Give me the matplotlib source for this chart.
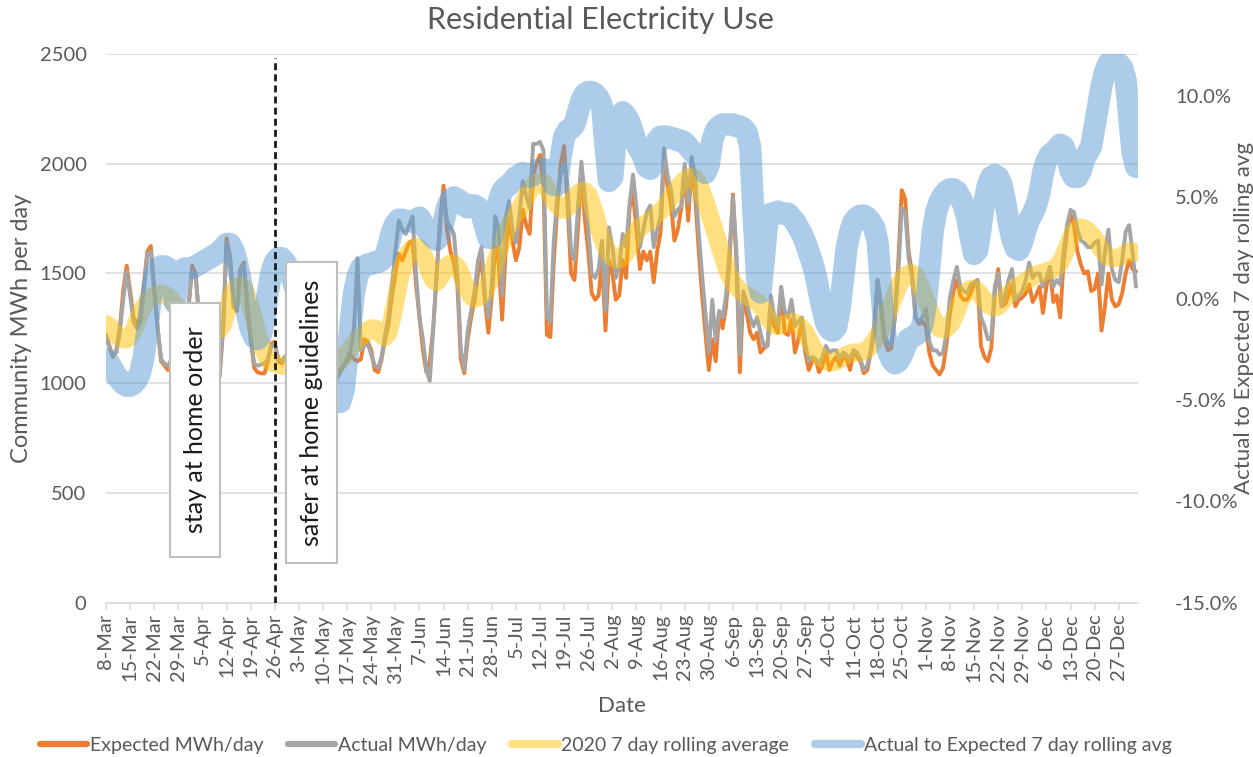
import numpy as np
import pandas as pd
import matplotlib
matplotlib.use("Agg")
import matplotlib.pyplot as plt
import matplotlib.dates as mdates
from matplotlib.lines import Line2D
from matplotlib.patches import Rectangle
from matplotlib.ticker import FuncFormatter

plt.rcParams['font.family'] = ['Lato', 'DejaVu Sans']

start_date = "2020-03-08"

expected_mwh = [
    1220, 1170, 1120, 1150, 1250, 1420, 1535, 1420, 1300, 1270,
    1300, 1450, 1600, 1625, 1430, 1250, 1100, 1080, 1060, 1100,
    1200, 1150, 1100, 1150, 1350, 1535, 1500, 1300, 1150, 1100,
    1080, 1060, 1050, 1030, 1250, 1660, 1580, 1350, 1330, 1520,
    1550, 1350, 1200, 1070, 1050, 1045, 1045, 1100, 1180, 1190,
    1100, 1090, 1120, 1140, 1180, 1150, 1100, 1080, 1070, 1090,
    1120, 1150, 1130, 1100, 1080, 1060, 1050, 1050, 1060, 1080,
    1100, 1130, 1110, 1100, 1110, 1200, 1190, 1150, 1060, 1050,
    1110, 1200, 1270, 1400, 1500, 1590, 1560, 1600, 1640, 1650,
    1450, 1300, 1150, 1050, 1100, 1250, 1500, 1750, 1900, 1700,
    1600, 1550, 1450, 1110, 1045, 1200, 1300, 1380, 1500, 1560,
    1380, 1230, 1400, 1620, 1550, 1290, 1600, 1750, 1650, 1560,
    1620, 1790, 1720, 1680, 1950, 2000, 2040, 1900, 1220, 1210,
    1560, 1800, 2000, 2080, 1820, 1500, 1470, 1700, 1980, 1750,
    1600, 1410, 1380, 1400, 1560, 1240, 1560, 1500, 1380, 1400,
    1560, 1480, 1800, 1860, 1700, 1520, 1600, 1560, 1600, 1460,
    1600, 1690, 2040, 1900, 1820, 1650, 1700, 1800, 1970, 1740,
    1990, 1860, 1620, 1410, 1230, 1060, 1200, 1100, 1320, 1250,
    1350, 1560, 1860, 1560, 1050, 1400, 1320, 1230, 1200, 1230,
    1140, 1160, 1170, 1330, 1260, 1230, 1430, 1230, 1220, 1290,
    1140, 1200, 1280, 1140, 1060, 1100, 1110, 1050, 1080, 1140,
    1060, 1100, 1120, 1080, 1120, 1110, 1060, 1150, 1120, 1100,
    1045, 1060, 1140, 1230, 1470, 1340, 1200, 1150, 1160, 1300,
    1550, 1880, 1840, 1600, 1500, 1300, 1270, 1280, 1260, 1140,
    1080, 1060, 1040, 1070, 1180, 1320, 1420, 1470, 1400, 1380,
    1380, 1410, 1450, 1470, 1170, 1120, 1100, 1160, 1410, 1520,
    1350, 1360, 1400, 1450, 1350, 1380, 1390, 1410, 1450, 1370,
    1400, 1440, 1320, 1440, 1530, 1370, 1400, 1300, 1560, 1700,
    1770, 1720, 1600, 1540, 1500, 1510, 1420, 1430, 1500, 1240,
    1350, 1500, 1380, 1350, 1360, 1410, 1500, 1560, 1520, 1510,
]

actual_mwh = [
    1210, 1160, 1130, 1140, 1230, 1380, 1510, 1400, 1280, 1250,
    1280, 1420, 1590, 1600, 1420, 1250, 1110, 1090, 1080, 1110,
    1190, 1170, 1120, 1170, 1360, 1515, 1490, 1310, 1170, 1120,
    1100, 1080, 1070, 1050, 1260, 1640, 1570, 1360, 1340, 1510,
    1540, 1360, 1210, 1090, 1080, 1085, 1090, 1110, 1170, 1180,
    1110, 1100, 1120, 1140, 1170, 1140, 1090, 1070, 1060, 1080,
    1100, 1120, 1100, 1070, 1050, 1030, 1020, 1020, 1050, 1080,
    1110, 1150, 1250, 1570, 1150, 1170, 1180, 1130, 1080, 1070,
    1120, 1220, 1300, 1450, 1600, 1740, 1700, 1680, 1720, 1760,
    1500, 1300, 1200, 1060, 1010, 1250, 1500, 1720, 1870, 1740,
    1710, 1680, 1500, 1150, 1060, 1240, 1330, 1420, 1560, 1620,
    1400, 1300, 1450, 1760, 1700, 1400, 1750, 1830, 1700, 1640,
    1760, 1920, 1850, 1800, 2090, 2090, 2100, 2060, 1300, 1280,
    1650, 1850, 1950, 2000, 1900, 1600, 1560, 1800, 2010, 1850,
    1700, 1500, 1480, 1520, 1650, 1330, 1710, 1620, 1480, 1530,
    1680, 1620, 1820, 1950, 1800, 1620, 1700, 1780, 1810, 1620,
    1700, 1760, 2070, 1950, 1880, 1760, 1790, 1810, 2000, 1820,
    2030, 1950, 1700, 1500, 1320, 1140, 1380, 1190, 1330, 1300,
    1400, 1600, 1850, 1600, 1130, 1420, 1370, 1300, 1260, 1300,
    1230, 1170, 1170, 1400, 1300, 1260, 1440, 1330, 1300, 1380,
    1260, 1280, 1300, 1180, 1100, 1120, 1110, 1090, 1120, 1170,
    1140, 1150, 1150, 1110, 1140, 1130, 1110, 1150, 1140, 1110,
    1060, 1080, 1150, 1270, 1470, 1360, 1220, 1180, 1180, 1300,
    1500, 1800, 1780, 1570, 1480, 1300, 1280, 1300, 1340, 1190,
    1150, 1150, 1130, 1140, 1230, 1390, 1470, 1530, 1440, 1420,
    1410, 1450, 1460, 1470, 1300, 1260, 1200, 1210, 1440, 1500,
    1350, 1400, 1470, 1520, 1380, 1400, 1420, 1470, 1550, 1480,
    1500, 1500, 1440, 1480, 1530, 1440, 1470, 1450, 1600, 1720,
    1790, 1780, 1700, 1650, 1640, 1620, 1620, 1640, 1650, 1450,
    1600, 1700, 1520, 1470, 1460, 1560, 1690, 1720, 1600, 1440,
]

rolling_avg_2020 = [
    1270, 1260, 1240, 1220, 1210, 1200, 1200, 1210, 1240, 1280,
    1320, 1350, 1375, 1390, 1400, 1405, 1410, 1405, 1395, 1380,
    1360, 1340, 1320, 1300, 1280, 1270, 1260, 1255, 1250, 1245,
    1240, 1240, 1240, 1245, 1270, 1320, 1380, 1420, 1440, 1445,
    1435, 1400, 1350, 1290, 1230, 1180, 1140, 1110, 1095, 1090,
    1085, 1080, 1080, 1075, 1070, 1070, 1075, 1080, 1085, 1090,
    1090, 1085, 1080, 1075, 1070, 1070, 1075, 1085, 1100, 1120,
    1140, 1160, 1180, 1200, 1210, 1225, 1240, 1250, 1250, 1240,
    1220, 1210, 1230, 1290, 1370, 1450, 1520, 1570, 1600, 1615,
    1620, 1615, 1590, 1550, 1500, 1470, 1460, 1480, 1510, 1535,
    1545, 1545, 1530, 1500, 1460, 1420, 1395, 1385, 1390, 1400,
    1420, 1450, 1500, 1550, 1600, 1640, 1680, 1720, 1750, 1770,
    1790, 1820, 1850, 1880, 1900, 1915, 1920, 1915, 1890, 1860,
    1830, 1810, 1795, 1790, 1800, 1820, 1845, 1865, 1875, 1875,
    1860, 1820, 1770, 1710, 1660, 1620, 1590, 1575, 1565, 1565,
    1575, 1595, 1625, 1660, 1690, 1710, 1720, 1730, 1740, 1755,
    1770, 1785, 1800, 1820, 1845, 1870, 1890, 1910, 1925, 1935,
    1940, 1935, 1910, 1870, 1830, 1780, 1730, 1680, 1630, 1580,
    1530, 1490, 1460, 1440, 1425, 1410, 1400, 1390, 1380, 1370,
    1355, 1330, 1300, 1280, 1265, 1260, 1265, 1270, 1275, 1280,
    1275, 1265, 1250, 1230, 1200, 1170, 1145, 1125, 1110, 1100,
    1095, 1095, 1100, 1110, 1120, 1130, 1135, 1140, 1140, 1140,
    1145, 1155, 1170, 1190, 1215, 1240, 1280, 1320, 1360, 1400,
    1440, 1470, 1490, 1500, 1500, 1490, 1460, 1420, 1380, 1340,
    1300, 1270, 1250, 1245, 1250, 1265, 1290, 1330, 1370, 1400,
    1420, 1430, 1430, 1420, 1400, 1380, 1360, 1350, 1345, 1350,
    1365, 1385, 1405, 1420, 1435, 1445, 1455, 1465, 1475, 1485,
    1495, 1500, 1505, 1510, 1515, 1520, 1530, 1550, 1580, 1620,
    1660, 1690, 1705, 1710, 1705, 1695, 1680, 1660, 1635, 1610,
    1590, 1575, 1570, 1570, 1575, 1580, 1590, 1600, 1600, 1595,
]

ratio_pct = [
    -3.0, -3.2, -3.5, -3.8, -4.0, -4.2, -4.3, -4.3, -4.2, -4.0,
    -3.6, -2.8, -1.5, 0.0, 1.0, 1.5, 1.6, 1.6, 1.5, 1.0,
    -0.2, 1.0, 1.4, 1.5, 1.5, 1.5, 1.6, 1.7, 1.8, 1.9,
    2.0, 2.1, 2.2, 2.3, 2.5, 2.7, 2.7, 2.4, 1.8, 1.0,
    0.0, -0.8, -1.5, -1.9, -2.0, -1.8, -1.0, 0.3, 1.3, 1.8,
    2.0, 2.0, 1.8, 1.5, 1.0, 0.5, 0.0, -0.5, -1.0, -1.5,
    -2.0, -2.5, -3.0, -3.5, -4.0, -4.5, -4.9, -5.1, -5.1, -4.5,
    -3.0, -1.2, 0.3, 1.1, 1.5, 1.6, 1.7, 1.7, 1.8, 1.8,
    1.9, 2.1, 2.6, 3.3, 3.7, 3.9, 3.9, 3.8, 3.8, 3.8,
    3.9, 4.0, 3.7, 3.4, 3.2, 3.0, 2.9, 3.1, 3.8, 4.5,
    4.9, 5.0, 4.9, 4.8, 4.6, 4.5, 4.6, 4.6, 4.5, 4.2,
    3.6, 3.0, 3.0, 3.8, 4.8, 5.3, 5.5, 5.6, 5.8, 6.0,
    6.1, 6.2, 6.1, 6.0, 6.1, 6.3, 6.4, 6.4, 6.3, 6.0,
    5.6, 5.6, 7.0, 8.0, 8.3, 8.4, 8.6, 9.2, 9.8, 10.1,
    10.2, 10.2, 10.1, 9.9, 9.5, 7.5, 5.8, 6.0, 8.0, 9.0,
    9.2, 9.0, 8.7, 8.2, 7.6, 7.3, 7.0, 6.5, 6.4, 7.0,
    7.8, 8.0, 8.0, 8.0, 7.9, 7.9, 7.8, 7.8, 7.7, 7.5,
    7.3, 7.1, 6.9, 6.6, 6.2, 6.6, 7.8, 8.3, 8.5, 8.6,
    8.6, 8.6, 8.6, 8.5, 8.5, 8.4, 8.2, 7.5, 4.0, 1.0,
    0.3, 2.0, 3.8, 4.2, 4.2, 4.3, 4.2, 4.2, 4.2, 4.0,
    3.8, 3.5, 3.2, 2.8, 2.3, 1.8, 1.2, 0.3, -0.5, -1.2,
    -1.5, -1.6, -1.4, -0.5, 1.0, 2.5, 3.3, 3.8, 4.0, 4.1,
    4.1, 4.0, 3.8, 3.5, 2.8, 0.5, -1.5, -2.6, -3.0, -3.2,
    -3.1, -2.8, -2.4, -2.0, -1.9, -1.8, -1.7, -1.3, -0.3, 1.5,
    3.3, 4.3, 4.8, 5.1, 5.3, 5.4, 5.4, 5.3, 5.0, 4.6,
    4.0, 3.0, 2.2, 2.4, 3.6, 4.8, 5.6, 6.0, 6.1, 6.0,
    5.6, 4.8, 3.8, 3.0, 2.5, 2.4, 2.8, 3.4, 3.9, 4.2,
    4.6, 5.2, 6.2, 6.8, 7.1, 7.2, 7.4, 7.6, 7.5, 7.0,
    6.3, 6.0, 6.0, 6.3, 6.9, 7.2, 7.5, 8.5, 9.5, 10.5,
    11.2, 11.6, 11.7, 11.7, 11.6, 11.4, 10.8, 9.0, 7.2, 6.5,
]

series_labels = ["Expected MWh/day", "Actual MWh/day",
                 "2020 7 day rolling average", "Actual to Expected 7 day rolling avg"]
event_date = "2020-04-26"
notes = ["stay at home order", "safer at home guidelines"]

TEXT = '#595959'
GRID = '#D9D9D9'

dates = pd.date_range(start_date, periods=len(expected_mwh), freq="D")
d0 = dates[0]

W, H = 1253, 757
fig = plt.figure(figsize=(W / 100, H / 100), dpi=100)
L, R, T, B = 106, 1137.7, 54, 602.7
ax = fig.add_axes([L / W, 1 - B / H, (R - L) / W, (B - T) / H])
ax2 = ax.twinx()

ax.plot(dates, expected_mwh, color='#ED7D31', lw=2.8, zorder=2,
        solid_joinstyle='round', solid_capstyle='round')
ax.plot(dates, actual_mwh, color='#A5A5A5', lw=2.8, zorder=3,
        solid_joinstyle='round', solid_capstyle='round')
ax.plot(dates, rolling_avg_2020, color='#FFC000', alpha=0.5, lw=13, zorder=4,
        solid_joinstyle='round', solid_capstyle='round')
ax2.plot(dates, ratio_pct, color='#5B9BD5', alpha=0.5, lw=16, zorder=2,
         solid_joinstyle='round', solid_capstyle='round')

ax.set_ylim(0, 2500)
ax.set_yticks(range(0, 2501, 500))
ax.grid(axis='y', color=GRID, lw=1.1)
ax.set_axisbelow(True)
ax.set_xlim(d0, d0 + pd.Timedelta(days=299.5))
ticks = dates[::7]
ax.set_xticks(ticks)
ax.set_xticklabels([f"{d.day}-{d.strftime('%b')}" for d in ticks], rotation=90)

for s in ['top', 'left', 'right']:
    ax.spines[s].set_visible(False)
    ax2.spines[s].set_visible(False)
ax2.spines['bottom'].set_visible(False)
ax.spines['bottom'].set_color(GRID)
ax.spines['bottom'].set_linewidth(1.1)

ax.tick_params(axis='x', length=5, color=GRID, width=1.1, labelsize=14.5,
               labelcolor=TEXT, pad=3)
ax.tick_params(axis='y', length=0, labelsize=14.5, labelcolor=TEXT, pad=14)

ax2.set_ylim(-15, 12.07)
ax2.set_yticks([-15, -10, -5, 0, 5, 10])
ax2.yaxis.set_major_formatter(FuncFormatter(lambda v, p: f"{v:.1f}%"))
ax2.tick_params(axis='y', length=0, labelsize=14.5, labelcolor=TEXT, pad=27)

fig.text(22 / W, 1 - 328 / H, "Community MWh per day", rotation=90, ha='center',
         va='center', fontsize=17, color=TEXT)
fig.text(1244 / W, 1 - 318 / H, "Actual to Expected 7 day rolling avg", rotation=90,
         ha='center', va='center', fontsize=16, color=TEXT)

fig.text(622 / W, 1 - 706 / H, "Date", ha='center', va='center', fontsize=16, color=TEXT)
fig.text(600 / W, 1 - 20 / H, "Residential Electricity Use", ha='center', va='center',
         fontsize=22, color=TEXT)

# event marker
ev = pd.Timestamp(event_date)
ax2.axvline(ev, ymin=0, ymax=2480 / 2500, color='#1a1a1a', lw=2, ls=(0, (2.5, 1.5)), zorder=9)

# annotation boxes (start day offset, end day offset, bottom, top in MWh)
box_specs = [(18.6, 33.1, 208, 1365), (52.2, 67.1, 180, 1552)]
for text, (s, e, yb, yt) in zip(notes, box_specs):
    xs = mdates.date2num(d0 + pd.Timedelta(days=s))
    xe = mdates.date2num(d0 + pd.Timedelta(days=e))
    rect = Rectangle((xs, yb), xe - xs, yt - yb, transform=ax.transData,
                     facecolor='white', edgecolor='#BFBFBF', lw=1.5, zorder=10)
    ax2.add_patch(rect)
    ax2.text((xs + xe) / 2, (yb + yt) / 2, text, transform=ax.transData, rotation=90,
             ha='center', va='center', fontsize=18, color='#1a1a1a', zorder=11)

handles = [
    Line2D([], [], color='#ED7D31', lw=4.5, solid_capstyle='round'),
    Line2D([], [], color='#A5A5A5', lw=4.5, solid_capstyle='round'),
    Line2D([], [], color='#FFC000', alpha=0.5, lw=6, solid_capstyle='round'),
    Line2D([], [], color='#5B9BD5', alpha=0.5, lw=6, solid_capstyle='round'),
]
fig.legend(handles, series_labels, loc='center', bbox_to_anchor=(606 / W, 1 - 745 / H),
           ncol=4, frameon=False, fontsize=14, handlelength=2.4, handletextpad=0.15,
           columnspacing=1.3, labelcolor=TEXT)

fig.savefig("out.png", dpi=100)
